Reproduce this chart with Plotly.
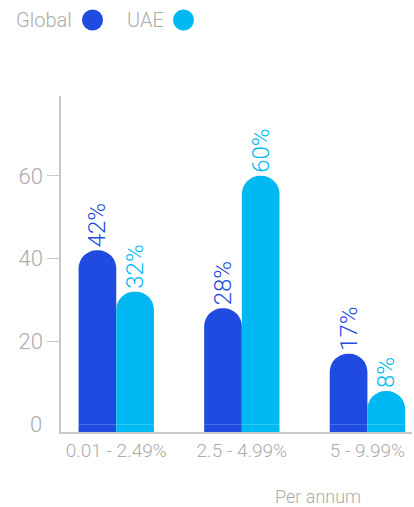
import plotly.graph_objects as go

categories = ["0.01 - 2.49%", "2.5 - 4.99%", "5 - 9.99%"]
global_vals = [42, 28, 17]
uae_vals = [32, 60, 8]
y_ticks = [20, 40, 60]

GLOBAL_C = "#1f4be0"
UAE_C = "#00b9f2"
GRAY = "#ababab"
FONT = "Roboto"
WT = 300

W, H = 414, 507
L, R, T, B = 61, 2, 96, 75
Y_MIN, Y_MAX = -1.9, 79.3

def px(x):
    return (x - L) / (W - L - R)

def py(y):
    return (H - B - y) / (H - T - B)

fig = go.Figure()
for name, vals, col, off in [("Global", global_vals, GLOBAL_C, -0.3), ("UAE", uae_vals, UAE_C, 0.0)]:
    # small square foot below zero so the bar reaches the axis line
    fig.add_trace(go.Bar(
        x=categories, y=[Y_MIN] * len(vals), offset=off, width=0.3,
        marker=dict(color=col, line=dict(width=0), cornerradius=0),
        showlegend=False, hoverinfo="skip",
    ))
    fig.add_trace(go.Bar(
        name=name, x=categories, y=vals, offset=off, width=0.3,
        marker=dict(color=col, line=dict(width=0)),
        text=[f"{v}%" for v in vals], textposition="outside", textangle=-90,
        constraintext="none",
        textfont=dict(color=col, size=24, family=FONT, weight=WT),
        cliponaxis=False, showlegend=False,
    ))

fig.update_layout(
    width=W, height=H, margin=dict(l=L, r=R, t=T, b=B),
    paper_bgcolor="white", plot_bgcolor="white",
    barmode="overlay", barcornerradius="50%",
    font=dict(family=FONT, color=GRAY, weight=WT),
    xaxis=dict(range=[-0.44, 2.355], showgrid=False, zeroline=False,
               showline=True, linecolor="#c8c8c8", linewidth=1.5,
               ticks="", tickfont=dict(size=19, color=GRAY, weight=WT)),
    yaxis=dict(range=[Y_MIN, Y_MAX], tickvals=y_ticks, showgrid=False, zeroline=False,
               showline=True, linecolor="#c8c8c8", linewidth=1.5,
               ticks="outside", ticklen=12, tickcolor="#c8c8c8", tickwidth=1,
               tickfont=dict(size=22, color=GRAY, weight=WT)),
)

# zero label (no tick mark in the reference)
fig.add_annotation(text="0", xref="paper", yref="y", x=px(44), y=0,
                   xanchor="right", yanchor="middle", showarrow=False,
                   font=dict(size=22, color=GRAY, family=FONT, weight=WT))

# legend (text then dot)
for label, xtxt, xc, col in [("Global", 74, 92.5, GLOBAL_C), ("UAE", 166, 183.5, UAE_C)]:
    fig.add_annotation(text=label, xref="paper", yref="paper", x=px(xtxt), y=py(20),
                       xanchor="right", yanchor="middle", showarrow=False,
                       font=dict(size=20, color=GRAY, family=FONT, weight=WT))
    fig.add_shape(type="circle", xref="paper", yref="paper",
                  x0=px(xc - 10.5), x1=px(xc + 10.5), y0=py(30.5), y1=py(9.5),
                  fillcolor=col, line=dict(width=0))

fig.add_annotation(text="Per annum", xref="paper", yref="paper", x=px(318), y=py(496),
                   xanchor="center", yanchor="middle", showarrow=False,
                   font=dict(size=18, color=GRAY, family=FONT, weight=WT))

fig.write_html("out.html")
